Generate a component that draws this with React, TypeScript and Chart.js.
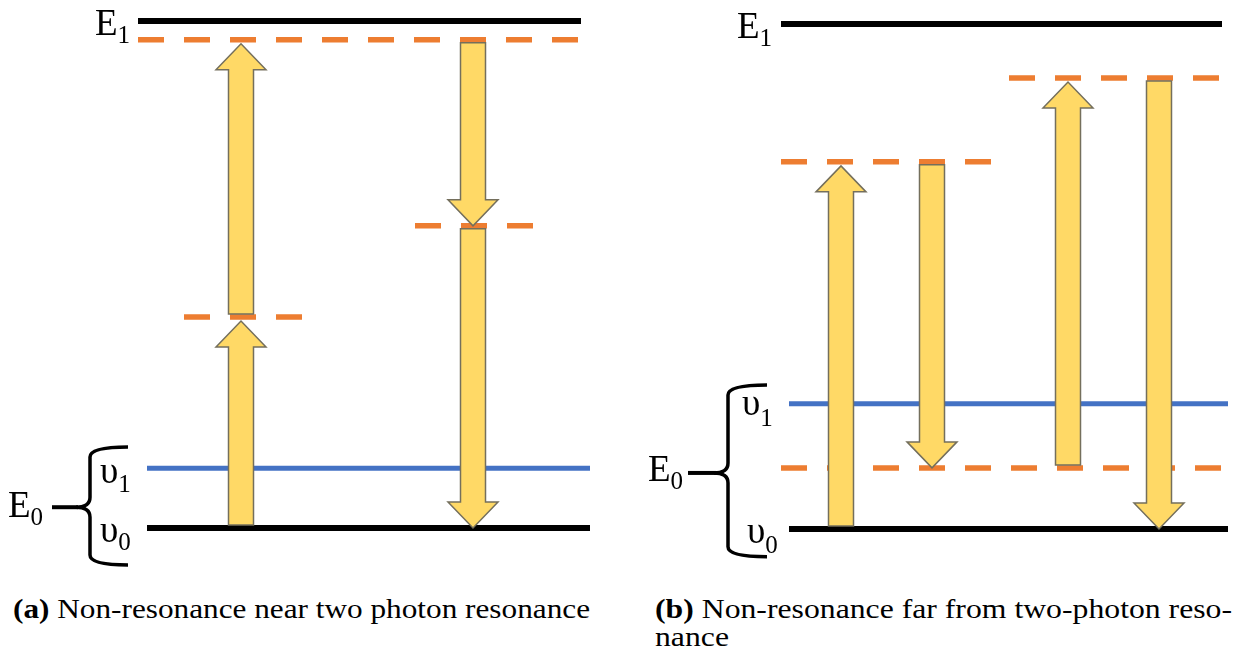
import React, { useEffect, useRef } from "react";
import { Chart, registerables } from "chart.js";

Chart.register(...registerables);

// ---------------- Panel (a): energies in arbitrary units (υ0 = 0, E1 = 10) ----------------
const levelNamesA = ["E1", "virtual top", "virtual mid (up)", "virtual mid (down)", "υ1", "υ0"];
const levelValuesA = [10, 9.63, 4.16, 5.96, 1.18, 0];
const levelKindsA = ["electronic", "virtual", "virtual", "virtual", "vibrational", "electronic"];
const lineStartA = [138, 138, 184, 415, 147, 147];
const lineEndA = [581, 578, 302, 533, 590, 590];

const arrowXA = [241, 241, 473, 473];
const arrowFromA = [4.16, 0, 9.63, 5.96];
const arrowToA = [9.63, 4.16, 5.96, 0];

// ---------------- Panel (b) ----------------
const levelNamesB = ["E1", "virtual high", "virtual mid", "υ1", "virtual low", "υ0"];
const levelValuesB = [10, 8.93, 7.27, 2.48, 1.21, 0];
const levelKindsB = ["electronic", "virtual", "virtual", "vibrational", "virtual", "electronic"];
const lineStartB = [163, 391, 163, 171, 163, 171];
const lineEndB = [604, 601, 373, 610, 604, 610];

const arrowXB = [223, 314, 450, 541];
const arrowFromB = [0, 7.27, 1.21, 8.93];
const arrowToB = [7.27, 1.21, 8.93, 0];

// ---------------- Labels ----------------
const labelTextA = ["E", "E", "υ", "υ"];
const labelSubA = ["1", "0", "1", "0"];
const labelLevelA = [10, 0.41, 1.18, 0];
const labelTextB = ["E", "E", "υ", "υ"];
const labelSubB = ["1", "0", "1", "0"];
const labelLevelB = [10, 1.11, 2.48, 0];

const captionBoldA = "(a)";
const captionTextA = " Non-resonance near two photon resonance";
const captionBoldB = "(b)";
const captionTextB = " Non-resonance far from two-photon reso-";
const captionTextB2 = "nance";

// ---------------- Styles / layout ----------------
const COLORS: Record<string, string> = {
  electronic: "#000000",
  vibrational: "#4472C4",
  virtual: "#ED7D31",
};
const WIDTHS: Record<string, number> = { electronic: 6, vibrational: 5, virtual: 5.5 };
const ARROW_FILL = "#FFD966";
const ARROW_STROKE = "#746f5c";
const H = 580;
const SERIF = '"Liberation Serif", "DejaVu Serif", serif';

type LabelLayout = { x: number[]; dy: number[]; subDy: number[] };
type Brace = { xv: number; arm: number; tip: number; top: number; bottom: number; cusp: number };

const layoutLabelsA: LabelLayout = { x: [95, 8, 100, 100], dy: [14, 10, 15, 14], subDy: [8, 8, 9, 8] };
const layoutLabelsB: LabelLayout = { x: [119, 30, 124, 129], dy: [14, 8, 11, 14], subDy: [8, 8, 11, 10] };
const braceA = { xv: 90, arm: 128, tip: 52, top: 1.6, bottom: -0.73, cusp: 0.41 };
const braceB = { xv: 110, arm: 149, tip: 70, top: 2.85, bottom: -0.55, cusp: 1.11 };

type PanelSpec = {
  width: number;
  yMin: number;
  yMax: number;
  names: string[];
  values: number[];
  kinds: string[];
  starts: number[];
  ends: number[];
  arrowX: number[];
  arrowFrom: number[];
  arrowTo: number[];
  labelText: string[];
  labelSub: string[];
  labelLevel: number[];
  labelLayout: LabelLayout;
  brace: Brace;
};

function makeDecorPlugin(spec: PanelSpec) {
  return {
    id: "decor",
    afterDatasetsDraw(chart: any) {
      const { ctx } = chart;
      const xs = chart.scales.x;
      const ys = chart.scales.y;
      ctx.save();
      // arrows
      spec.arrowX.forEach((xv, i) => {
        const cx = xs.getPixelForValue(xv);
        const y0 = ys.getPixelForValue(spec.arrowFrom[i]);
        const y1 = ys.getPixelForValue(spec.arrowTo[i]);
        const dir = y1 < y0 ? -1 : 1;
        const start = y0 + dir * 3;
        const tip = y1 - dir * (dir < 0 ? 4 : 0);
        const headBase = tip - dir * 26;
        const sw = 12.5;
        const hw = 25;
        ctx.beginPath();
        ctx.moveTo(cx - sw, start);
        ctx.lineTo(cx - sw, headBase);
        ctx.lineTo(cx - hw, headBase);
        ctx.lineTo(cx, tip);
        ctx.lineTo(cx + hw, headBase);
        ctx.lineTo(cx + sw, headBase);
        ctx.lineTo(cx + sw, start);
        ctx.closePath();
        ctx.fillStyle = ARROW_FILL;
        ctx.fill();
        ctx.lineWidth = 1.5;
        ctx.lineJoin = "miter";
        ctx.strokeStyle = ARROW_STROKE;
        ctx.stroke();
      });
      // brace
      const b = spec.brace;
      const top = ys.getPixelForValue(b.top);
      const bot = ys.getPixelForValue(b.bottom);
      const cusp = ys.getPixelForValue(b.cusp);
      const xv = xs.getPixelForValue(b.xv);
      const arm = xs.getPixelForValue(b.arm);
      const tipX = xs.getPixelForValue(b.tip);
      const r = 10;
      ctx.strokeStyle = "#000";
      ctx.lineWidth = 3.5;
      ctx.lineCap = "butt";
      ctx.beginPath();
      ctx.moveTo(arm, top);
      ctx.quadraticCurveTo(xv, top, xv, top + r);
      ctx.lineTo(xv, cusp - r);
      ctx.quadraticCurveTo(xv, cusp, xv - 14, cusp);
      ctx.quadraticCurveTo(xv, cusp, xv, cusp + r);
      ctx.lineTo(xv, bot - r);
      ctx.quadraticCurveTo(xv, bot, arm, bot);
      ctx.stroke();
      ctx.lineWidth = 4;
      ctx.beginPath();
      ctx.moveTo(xv - 12, cusp);
      ctx.lineTo(tipX, cusp);
      ctx.stroke();
      // labels
      ctx.fillStyle = "#000";
      ctx.textBaseline = "alphabetic";
      ctx.textAlign = "left";
      spec.labelText.forEach((t, i) => {
        const lx = xs.getPixelForValue(spec.labelLayout.x[i]);
        const base = ys.getPixelForValue(spec.labelLevel[i]) + spec.labelLayout.dy[i];
        ctx.font = `37px ${SERIF}`;
        ctx.fillText(t, lx, base);
        const w = ctx.measureText(t).width;
        ctx.font = `25px ${SERIF}`;
        ctx.fillText(spec.labelSub[i], lx + w, base + spec.labelLayout.subDy[i]);
      });
      ctx.restore();
    },
  };
}

function Panel({ spec, left }: { spec: PanelSpec; left: number }) {
  const ref = useRef<HTMLCanvasElement | null>(null);
  useEffect(() => {
    if (!ref.current) return;
    const datasets = spec.values.map((v, i) => ({
      label: spec.names[i],
      data: [
        { x: spec.starts[i], y: v },
        { x: spec.ends[i], y: v },
      ],
      borderColor: COLORS[spec.kinds[i]],
      borderWidth: WIDTHS[spec.kinds[i]],
      borderDash: spec.kinds[i] === "virtual" ? [26, 20] : [],
      borderCapStyle: "butt" as const,
      pointRadius: 0,
      fill: false,
      tension: 0,
      clip: false as any,
    }));
    const chart = new Chart(ref.current, {
      type: "line",
      data: { datasets },
      options: {
        animation: false,
        responsive: false,
        maintainAspectRatio: false,
        events: [],
        layout: { padding: 0 },
        plugins: {
          legend: { display: false },
          tooltip: { enabled: false },
          title: { display: false },
        },
        scales: {
          x: { type: "linear", display: false, min: 0, max: spec.width },
          y: { type: "linear", display: false, min: spec.yMin, max: spec.yMax },
        },
      },
      plugins: [makeDecorPlugin(spec)],
    });
    return () => chart.destroy();
  }, [spec]);
  return (
    <canvas
      ref={ref}
      width={spec.width}
      height={H}
      style={{ position: "absolute", left, top: 0, width: spec.width, height: H }}
    />
  );
}

const specA: PanelSpec = {
  width: 618,
  yMin: -1.0256,
  yMax: 10.4142,
  names: levelNamesA,
  values: levelValuesA,
  kinds: levelKindsA,
  starts: lineStartA,
  ends: lineEndA,
  arrowX: arrowXA,
  arrowFrom: arrowFromA,
  arrowTo: arrowToA,
  labelText: labelTextA,
  labelSub: labelSubA,
  labelLevel: labelLevelA,
  labelLayout: layoutLabelsA,
  brace: braceA,
};

const specB: PanelSpec = {
  width: 619,
  yMin: -1.0099,
  yMax: 10.4752,
  names: levelNamesB,
  values: levelValuesB,
  kinds: levelKindsB,
  starts: lineStartB,
  ends: lineEndB,
  arrowX: arrowXB,
  arrowFrom: arrowFromB,
  arrowTo: arrowToB,
  labelText: labelTextB,
  labelSub: labelSubB,
  labelLevel: labelLevelB,
  labelLayout: layoutLabelsB,
  brace: braceB,
};

const CAP_SIZE = 28;
function measureCaption(bold: string, rest: string) {
  const c = document.createElement("canvas").getContext("2d");
  if (!c) return 1;
  c.font = `bold ${CAP_SIZE}px ${SERIF}`;
  let w = c.measureText(bold).width;
  c.font = `${CAP_SIZE}px ${SERIF}`;
  w += c.measureText(rest).width;
  return w;
}

function CaptionLine({ bold, rest, left, baseline, scale }: { bold: string; rest: string; left: number; baseline: number; scale: number }) {
  return (
    <div
      style={{
        position: "absolute",
        left,
        top: baseline - 0.837 * CAP_SIZE,
        fontFamily: SERIF,
        fontSize: CAP_SIZE,
        lineHeight: `${CAP_SIZE}px`,
        whiteSpace: "pre",
        transformOrigin: "0 0",
        transform: `scaleX(${scale})`,
        color: "#000",
      }}
    >
      {bold ? <b>{bold}</b> : null}
      {rest}
    </div>
  );
}

export default function App() {
  const scaleA = 577 / measureCaption(captionBoldA, captionTextA);
  const scaleB = 577 / measureCaption(captionBoldB, captionTextB);
  return (
    <div
      style={{
        position: "fixed",
        left: 0,
        top: 0,
        width: 1237,
        height: 657,
        background: "#fff",
        overflow: "hidden",
      }}
    >
      <Panel spec={specA} left={0} />
      <Panel spec={specB} left={618} />
      <CaptionLine bold={captionBoldA} rest={captionTextA} left={13} baseline={618} scale={scaleA} />
      <CaptionLine bold={captionBoldB} rest={captionTextB} left={655} baseline={618} scale={scaleB} />
      <CaptionLine bold="" rest={captionTextB2} left={655} baseline={646} scale={scaleB} />
    </div>
  );
}
